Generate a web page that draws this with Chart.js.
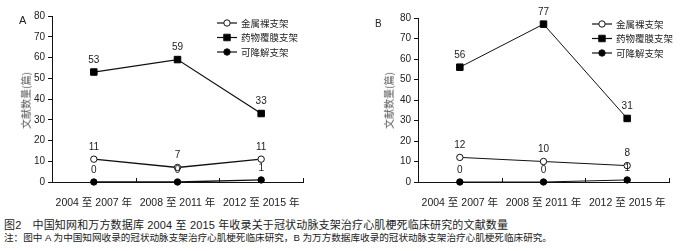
<!DOCTYPE html>
<html>
<head>
<meta charset="utf-8">
<script src="https://cdn.jsdelivr.net/npm/chart.js@4"></script>
<style>
  html, body { margin: 0; padding: 0; background: #fff; }
  body { width: 700px; height: 251px; position: relative; overflow: hidden;
         font-family: "Liberation Sans", "Noto Sans CJK SC", sans-serif; color: #222; }
  .box { position: absolute; top: 0; width: 345px; height: 212px; }
  .panel { position: absolute; font-family: "Liberation Sans", Arial, sans-serif; font-size: 11px; }
  .ytitle { position: absolute; font-size: 10px; color: #555; transform: rotate(-90deg);
            transform-origin: center; white-space: nowrap; font-family: "Noto Sans CJK SC", sans-serif; }
  .cap { position: absolute; left: 4px; white-space: nowrap; line-height: 1; }
</style>
</head>
<body>
<div class="box" style="left:0"><canvas id="chartA"></canvas></div>
<div class="box" style="left:366px"><canvas id="chartB"></canvas></div>
<div class="panel" style="left:19px; top:14px;">A</div>
<div class="panel" style="left:375px; top:18px; font-size:10px;">B</div>
<div class="ytitle" style="left:-3px; top:93px;">文献数量(篇)</div>
<div class="ytitle" style="left:360px; top:93px;">文献数量(篇)</div>
<div class="cap" style="top:220px; font-size:11px; letter-spacing:0.15px;">图2　中国知网和万方数据库 2004 至 2015 年收录关于冠状动脉支架治疗心肌梗死临床研究的文献数量</div>
<div class="cap" style="top:233px; font-size:9.6px;">注：图中 A 为中国知网收录的冠状动脉支架治疗心肌梗死临床研究，B 为万方数据库收录的冠状动脉支架治疗心肌梗死临床研究。</div>
<script>
// 数据
const periods = ['2004 至 2007 年', '2008 至 2011 年', '2012 至 2015 年'];
const seriesNames = ['金属裸支架', '药物覆膜支架', '可降解支架'];
const yTicks = [0, 10, 20, 30, 40, 50, 60, 70, 80];

const bareA = [11, 7, 11];
const drugA = [53, 59, 33];
const degrA = [0, 0, 1];

const bareB = [12, 10, 8];
const drugB = [56, 77, 31];
const degrB = [0, 0, 1];

// 数据标签
const labelPlugin = {
  id: 'valueLabels',
  afterDatasetsDraw(chart) {
    const ctx = chart.ctx;
    ctx.save();
    ctx.font = '10px "Liberation Sans", Arial, sans-serif';
    ctx.fillStyle = '#222';
    ctx.textAlign = 'center';
    ctx.textBaseline = 'middle';
    chart.data.datasets.forEach((ds, i) => {
      chart.getDatasetMeta(i).data.forEach((pt, j) => {
        ctx.fillText(String(ds.data[j]), pt.x, pt.y - 12);
      });
    });
    ctx.restore();
  }
};

// 图例 + x轴刻度
const legendPlugin = {
  id: 'innerLegend',
  afterDraw(chart, args, opts) {
    const ctx = chart.ctx;
    const x0 = opts.x, y0 = opts.y;
    ctx.save();
    chart.data.datasets.forEach((ds, i) => {
      const y = y0 + i * 14.5;
      ctx.strokeStyle = '#111';
      ctx.lineWidth = 1.2;
      ctx.beginPath();
      ctx.moveTo(x0, y);
      ctx.lineTo(x0 + 20, y);
      ctx.stroke();
      ctx.lineWidth = 1;
      ctx.fillStyle = ds.pointBackgroundColor;
      ctx.beginPath();
      if (ds.pointStyle === 'rect') {
        const s = ds.pointRadius * Math.SQRT1_2;
        ctx.rect(x0 + 10 - s, y - s, 2 * s, 2 * s);
      } else {
        ctx.arc(x0 + 10, y, ds.pointRadius, 0, Math.PI * 2);
      }
      ctx.fill();
      ctx.stroke();
      ctx.fillStyle = '#222';
      ctx.font = '9.5px "Noto Sans CJK SC", sans-serif';
      ctx.textBaseline = 'middle';
      ctx.fillText(ds.label, x0 + 24, y);
    });
    // x轴向上刻度
    const xs = chart.scales.x;
    const area = chart.chartArea;
    const step = xs.getPixelForValue(1) - xs.getPixelForValue(0);
    ctx.strokeStyle = '#111';
    ctx.lineWidth = 1;
    for (let k = 0; k < periods.length; k++) {
      const px = Math.round(xs.getPixelForValue(k) + step / 2) + 0.5;
      ctx.beginPath();
      ctx.moveTo(px, area.bottom);
      ctx.lineTo(px, area.bottom - 4);
      ctx.stroke();
    }
    ctx.restore();
  }
};

function makeChart(id, bare, drug, degr, lw, pad, legendPos) {
  const canvas = document.getElementById(id);
  return new Chart(canvas.getContext('2d'), {
    type: 'line',
    data: {
      labels: periods,
      datasets: [
        { label: seriesNames[0], data: bare, borderColor: '#111', borderWidth: lw,
          pointStyle: 'circle', pointRadius: 3.2, pointBackgroundColor: '#fff',
          pointBorderColor: '#111', pointBorderWidth: 1 },
        { label: seriesNames[1], data: drug, borderColor: '#111', borderWidth: lw,
          pointStyle: 'rect', pointRadius: 4.6, pointBackgroundColor: '#000',
          pointBorderColor: '#000', pointBorderWidth: 1 },
        { label: seriesNames[2], data: degr, borderColor: '#111', borderWidth: lw,
          pointStyle: 'circle', pointRadius: 3.2, pointBackgroundColor: '#000',
          pointBorderColor: '#000', pointBorderWidth: 1 }
      ]
    },
    options: {
      responsive: true,
      maintainAspectRatio: false,
      animation: false,
      clip: false,
      layout: { padding: pad },
      plugins: {
        legend: { display: false },
        tooltip: { enabled: false },
        innerLegend: legendPos
      },
      scales: {
        y: {
          min: 0, max: 80,
          afterBuildTicks: (s) => { s.ticks = yTicks.map(v => ({ value: v })); },
          afterFit: (s) => { s.width = pad.yw; },
          border: { color: '#111', width: 1 },
          grid: { drawOnChartArea: false, drawTicks: true, tickLength: 4, color: '#111' },
          ticks: { color: '#222', padding: 3,
                   font: { family: '"Liberation Sans", Arial, sans-serif', size: 10 } }
        },
        x: {
          offset: true,
          afterFit: (s) => { s.height = 29; },
          border: { color: '#111', width: 1 },
          grid: { display: false },
          ticks: { color: '#222', padding: 7, maxRotation: 0, autoSkip: false,
                   font: { family: '"Liberation Sans", "Noto Sans CJK SC", sans-serif', size: 10.5 } }
        }
      }
    },
    plugins: [labelPlugin, legendPlugin]
  });
}

makeChart('chartA', bareA, drugA, degrA, 1.3,
  { left: 0, top: 16, right: 42, bottom: 1, yw: 52 }, { x: 217, y: 23 });
makeChart('chartB', bareB, drugB, degrB, 1,
  { left: 0, top: 18, right: 42, bottom: 1, yw: 52 }, { x: 226, y: 24 });
</script>
</body>
</html>
